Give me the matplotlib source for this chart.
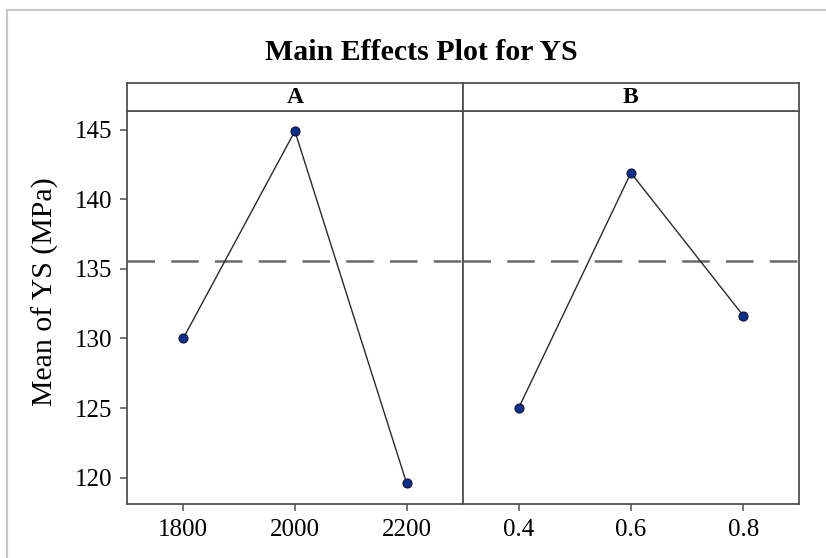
import matplotlib.pyplot as plt
import numpy as np
from matplotlib.lines import Line2D

plt.rcParams['font.family'] = ['Liberation Serif', 'DejaVu Serif']

# factor levels and mean responses
a_levels = [1800, 2000, 2200]
a_means = [130.0, 144.9, 119.6]
b_levels = [0.4, 0.6, 0.8]
b_means = [125.0, 141.9, 131.65]
grand_mean = 135.55

y_ticks = [120, 125, 130, 135, 140, 145]

fig = plt.figure(figsize=(8.26, 5.58), dpi=100)

# light frame lines along top and left
fig.add_artist(Line2D([7/826, 1], [1 - 9.5/558, 1 - 9.5/558], color='#c8c8c8', lw=1.5))
fig.add_artist(Line2D([7/826, 7/826], [0, 1 - 9.5/558], color='#c8c8c8', lw=1.5))

spine_c = '#505050'
x0, xm, x1 = 127.3/826, 462.5/826, 799.3/826
y0, y1, y2 = 54/558, 447.5/558, 474.7/558

axA = fig.add_axes([x0, y0, xm - x0, y1 - y0])
axB = fig.add_axes([xm, y0, x1 - xm, y1 - y0], sharey=axA)

panels = [(axA, a_levels, a_means, (1700, 2300), 'A', ['1800', '2000', '2200']),
          (axB, b_levels, b_means, (0.3, 0.9), 'B', ['0.4', '0.6', '0.8'])]

for ax, lv, mv, xl, name, labs in panels:
    ax.axhline(grand_mean, color='#6a6a6a', lw=1.8, dashes=(11, 6.5), zorder=1)
    ax.plot(lv, mv, color='#2a2a2a', lw=1.0, zorder=2)
    ax.plot(lv, mv, 'o', ms=6.5, mfc='#0b2f8c', mec='#101530', mew=0.8, zorder=3)
    ax.set_xlim(*xl)
    ax.set_xticks(lv)
    ax.set_xticklabels(labs)
    for s in ax.spines.values():
        s.set_color(spine_c)
        s.set_linewidth(1.3)
    ax.tick_params(axis='both', direction='out', length=5, width=1.1, color=spine_c,
                   labelsize=18, pad=6)

    # strip header above each panel
    sx = fig.add_axes([ax.get_position().x0, y1, ax.get_position().width, y2 - y1])
    sx.set_xticks([])
    sx.set_yticks([])
    for s in sx.spines.values():
        s.set_color(spine_c)
        s.set_linewidth(1.3)
    sx.text(0.5, 0.46, name, ha='center', va='center', fontsize=17, fontweight='bold',
            transform=sx.transAxes)

axA.set_ylim(118.11, 146.38)
axA.set_yticks(y_ticks)
axA.set_ylabel('Mean of YS (MPa)', fontsize=21.5)
axA.yaxis.set_label_coords(-0.205, 0.54)
axB.tick_params(axis='y', left=False, labelleft=False)

fig.text(0.51, 1 - 53/558, 'Main Effects Plot for YS', ha='center', va='center',
         fontsize=21.5, fontweight='bold')

fig.savefig('out.png', dpi=100)
